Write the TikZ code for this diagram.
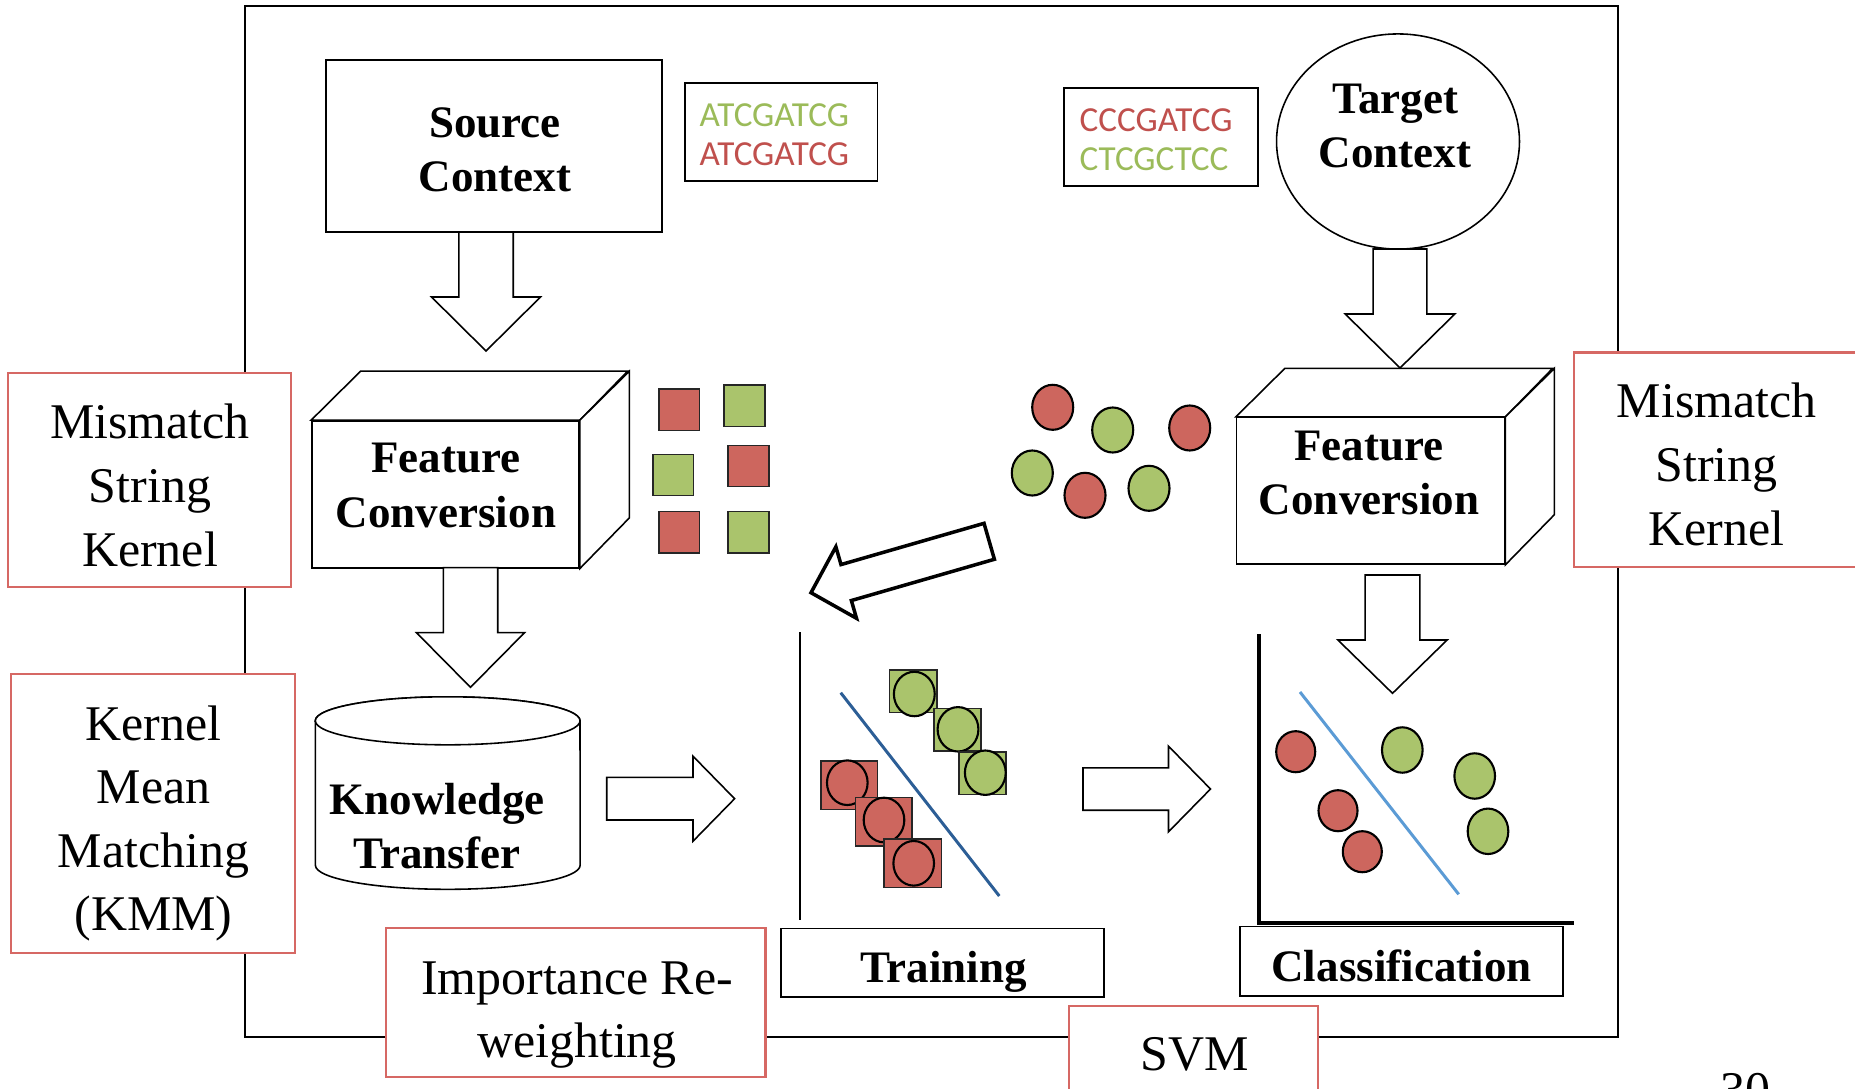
\documentclass[tikz,border=0pt]{standalone}
\usepackage{fontspec}
\setmainfont{Liberation Serif}
\newfontfamily\seqfont{Carlito}
\usetikzlibrary{calc,shapes.geometric}

\definecolor{seqgreen}{RGB}{155,187,89}
\definecolor{seqred}{RGB}{192,80,77}
\definecolor{dotred}{RGB}{205,102,94}
\definecolor{dotgreen}{RGB}{170,196,108}
\definecolor{labelred}{RGB}{214,104,100}
\definecolor{sepblue}{RGB}{44,94,150}
\definecolor{clsblue}{RGB}{91,155,213}

\tikzset{
  outline/.style={draw=black, line width=0.45pt, fill=white},
  plainbox/.style={outline, inner sep=0pt},
  labelbox/.style={draw=labelred, line width=0.6pt, fill=white, inner sep=0pt},
  bigtext/.style={font=\fontsize{12.8}{15.4}\selectfont\bfseries, align=center, inner sep=0pt},
  labeltext/.style={font=\fontsize{14.2}{18.1}\selectfont, align=center, inner sep=0pt},
  seqtext/.style={font=\seqfont\fontsize{10}{11.2}\selectfont, align=left, inner sep=0pt},
  redsq/.style={fill=dotred, draw=black!85, line width=0.45pt},
  greensq/.style={fill=dotgreen, draw=black!85, line width=0.45pt},
  reddot/.style={fill=dotred, draw=black, line width=0.6pt},
  greendot/.style={fill=dotgreen, draw=black, line width=0.6pt},
  % hollow block arrow: half shaft width, half head width, head length
  blockarrow/.style n args={3}{to path={
     ($(\tikztostart)!#1!90:(\tikztotarget)$)
     -- ($(\tikztotarget)!#3!(\tikztostart)!#1!90:(\tikztotarget)$)
     -- ($(\tikztotarget)!#3!(\tikztostart)!#2!90:(\tikztotarget)$)
     -- (\tikztotarget)
     -- ($(\tikztotarget)!#3!(\tikztostart)!#2!-90:(\tikztotarget)$)
     -- ($(\tikztotarget)!#3!(\tikztostart)!#1!-90:(\tikztotarget)$)
     -- ($(\tikztostart)!#1!-90:(\tikztotarget)$)
     -- cycle}},
}

\begin{document}
\begin{tikzpicture}[x=0.01cm, y=-0.01cm]
\useasboundingbox (0,0) rectangle (1855,1088);

% outer frame
\node[draw=black, line width=0.6pt, minimum width=13.73cm, minimum height=10.31cm, inner sep=0pt] (frame) at (931.5,521.5) {};

% source and target contexts
\node[plainbox, minimum width=3.36cm, minimum height=1.72cm] (src) at (494,146) {};
\node[bigtext] (srctxt) at (495,149.5) {Source\\Context};
\node[plainbox, minimum width=1.925cm, minimum height=0.98cm] (srcseq) at (781.25,132) {};
\node[seqtext, anchor=west] (srcseqtxt) at (699,135) {\textcolor{seqgreen}{ATCGATCG}\\\textcolor{seqred}{ATCGATCG}};
\node[plainbox, minimum width=1.94cm, minimum height=0.98cm] (tgtseq) at (1161,137) {};
\node[seqtext, anchor=west] (tgtseqtxt) at (1079,140) {\textcolor{seqred}{CCCGATCG}\\\textcolor{seqgreen}{CTCGCTCC}};
\node[outline, ellipse, minimum width=2.428cm, minimum height=2.15cm, inner sep=0pt] (tgt) at (1398,141.5) {};
\node[bigtext] (tgttxt) at (1395,126) {Target\\Context};

% feature conversion cubes
\node[plainbox, minimum width=2.67cm, minimum height=1.467cm] (fc1) at (445.5,494.35) {};
\draw[outline] (fc1.north west) -- ++(49.5,-49) -- ++(267,0) -- (fc1.north east) -- cycle;
\draw[outline] (fc1.north east) -- ++(49.5,-49) -- ++(0,146.7) -- (fc1.south east) -- cycle;
\node[bigtext] (fc1txt) at (446,485.5) {Feature\\Conversion};

\node[plainbox, minimum width=2.678cm, minimum height=1.463cm] (fc2) at (1370.6,490.85) {};
\draw[outline] (fc2.north west) -- ++(49,-48.5) -- ++(267.8,0) -- (fc2.north east) -- cycle;
\draw[outline] (fc2.north east) -- ++(49,-48.5) -- ++(0,146.3) -- (fc2.south east) -- cycle;
\node[bigtext] (fc2txt) at (1369,473) {Feature\\Conversion};

% knowledge transfer store
\draw[outline] (315.4,720.8) -- (315.4,865.3)
  arc[start angle=180, end angle=360, x radius=1.323cm, y radius=0.24cm]
  -- (580,720.8)
  arc[start angle=0, end angle=180, x radius=1.323cm, y radius=0.24cm] -- cycle;
\draw[outline] (447.7,720.8) ellipse [x radius=1.323cm, y radius=0.24cm];
\node[bigtext] (kt) at (437,826) {Knowledge\\Transfer};

% block arrows
\coordinate (a1s) at (486,232);    \coordinate (a1e) at (486,351);
\coordinate (a2s) at (1400,249);   \coordinate (a2e) at (1400,368);
\coordinate (a3s) at (470.5,567.7);\coordinate (a3e) at (470.5,687.3);
\coordinate (a4s) at (1392.5,575); \coordinate (a4e) at (1392.5,693.3);
\coordinate (a5s) at (606.7,798.7);\coordinate (a5e) at (734.6,798.7);
\coordinate (a6s) at (1083,789);   \coordinate (a6e) at (1210.5,789);
\coordinate (a7s) at (989.2,541.3);\coordinate (a7e) at (811,592.7);
\draw[outline, blockarrow={0.272cm}{0.545cm}{0.54cm}] (a1s) to (a1e);
\draw[outline, blockarrow={0.268cm}{0.548cm}{0.54cm}] (a2s) to (a2e);
\draw[outline, blockarrow={0.272cm}{0.54cm}{0.546cm}] (a3s) to (a3e);
\draw[outline, blockarrow={0.273cm}{0.546cm}{0.533cm}] (a4s) to (a4e);
\draw[outline, blockarrow={0.213cm}{0.425cm}{0.416cm}] (a5s) to (a5e);
\draw[outline, blockarrow={0.212cm}{0.428cm}{0.42cm}] (a6s) to (a6e);
\draw[outline, line width=1pt, blockarrow={0.187cm}{0.372cm}{0.366cm}] (a7s) to (a7e);

% source samples
\draw[redsq]   (658.7,389)   rectangle (699.3,430.3);
\draw[greensq] (724,385)     rectangle (765,426.3);
\draw[greensq] (652.7,454.3) rectangle (693.3,495.7);
\draw[redsq]   (728,445.7)   rectangle (768.7,486.7);
\draw[redsq]   (658.7,511.7) rectangle (699.3,553);
\draw[greensq] (728,511.7)   rectangle (768.7,553);

% target samples
\draw[reddot]   (1052.7,407.3) ellipse [x radius=0.205cm, y radius=0.225cm];
\draw[greendot] (1112.7,430)   ellipse [x radius=0.205cm, y radius=0.225cm];
\draw[reddot]   (1189.7,428)   ellipse [x radius=0.205cm, y radius=0.225cm];
\draw[greendot] (1032.3,473)   ellipse [x radius=0.205cm, y radius=0.225cm];
\draw[reddot]   (1085,495.3)   ellipse [x radius=0.205cm, y radius=0.225cm];
\draw[greendot] (1149,488.3)   ellipse [x radius=0.205cm, y radius=0.225cm];

% training panel
\draw[line width=0.7pt] (800,632) -- (800,920);
\draw[greensq]  (889.3,670) rectangle (936.7,712.3);
\draw[greendot] (914.3,694) ellipse [x radius=0.204cm, y radius=0.222cm];
\draw[greensq]  (933.7,708.3) rectangle (980.7,751);
\draw[greendot] (958,729.3) ellipse [x radius=0.204cm, y radius=0.222cm];
\draw[greensq]  (959,751.7) rectangle (1006,794.3);
\draw[greendot] (985.3,772.7) ellipse [x radius=0.204cm, y radius=0.222cm];
\draw[redsq]    (820.7,760.7) rectangle (877.3,809.3);
\draw[reddot]   (847.3,782.7) ellipse [x radius=0.203cm, y radius=0.223cm];
\draw[redsq]    (855.3,797.3) rectangle (912,846);
\draw[reddot]   (884,820) ellipse [x radius=0.203cm, y radius=0.223cm];
\draw[redsq]    (884,838.7) rectangle (941.3,887.3);
\draw[reddot]   (913.7,863.3) ellipse [x radius=0.203cm, y radius=0.223cm];
\draw[sepblue, line width=0.85pt] (840.7,692.7) -- (999.3,896);

% classification panel
\draw[line width=1pt] (1259,634) -- (1259,923) -- (1574,923);
\draw[clsblue, line width=0.85pt] (1300,692) -- (1458.7,894.3);
\draw[reddot]   (1295.7,751.7) ellipse [x radius=0.195cm, y radius=0.205cm];
\draw[reddot]   (1338,810.7)   ellipse [x radius=0.195cm, y radius=0.205cm];
\draw[reddot]   (1362.3,851.7) ellipse [x radius=0.195cm, y radius=0.205cm];
\draw[greendot] (1402.3,750)   ellipse [x radius=0.203cm, y radius=0.227cm];
\draw[greendot] (1474.7,776)   ellipse [x radius=0.203cm, y radius=0.227cm];
\draw[greendot] (1488,831.3)   ellipse [x radius=0.203cm, y radius=0.227cm];

% stage captions
\node[plainbox, minimum width=3.23cm, minimum height=0.685cm] (train) at (942.3,962.75) {};
\node[bigtext, anchor=base] (traintxt) at (943.5,982) {Training};
\node[plainbox, minimum width=3.23cm, minimum height=0.693cm] (cls) at (1401.5,961.35) {};
\node[bigtext, anchor=base] (clstxt) at (1401.5,981) {Classification};

% method labels
\node[labelbox, minimum width=2.83cm, minimum height=2.14cm] (msk1) at (149.5,479.7) {};
\node[labeltext] (msk1txt) at (150,485.5) {Mismatch\\String\\Kernel};
\node[labelbox, minimum width=2.86cm, minimum height=2.141cm] (msk2) at (1717,459.65) {};
\node[labeltext] (msk2txt) at (1716.6,464.5) {Mismatch\\String\\Kernel};
\node[labelbox, minimum width=2.832cm, minimum height=2.787cm] (kmm) at (153,813.35) {};
\node[labeltext] (kmmtxt) at (153.5,823.5) {Kernel\\Mean\\Matching\\(KMM)};
\node[labelbox, minimum width=3.79cm, minimum height=1.484cm] (imp) at (575.9,1002.5) {};
\node[labeltext] (imptxt) at (577,1015) {Importance Re-\\weighting};
\node[labelbox, minimum width=2.487cm, minimum height=1.243cm] (svm) at (1193.65,1067.85) {};
\node[labeltext, anchor=base] (svmtxt) at (1195,1070) {SVM};

% page number
\node[labeltext, anchor=base] (pagenum) at (1745,1106) {30};
\end{tikzpicture}
\end{document}
